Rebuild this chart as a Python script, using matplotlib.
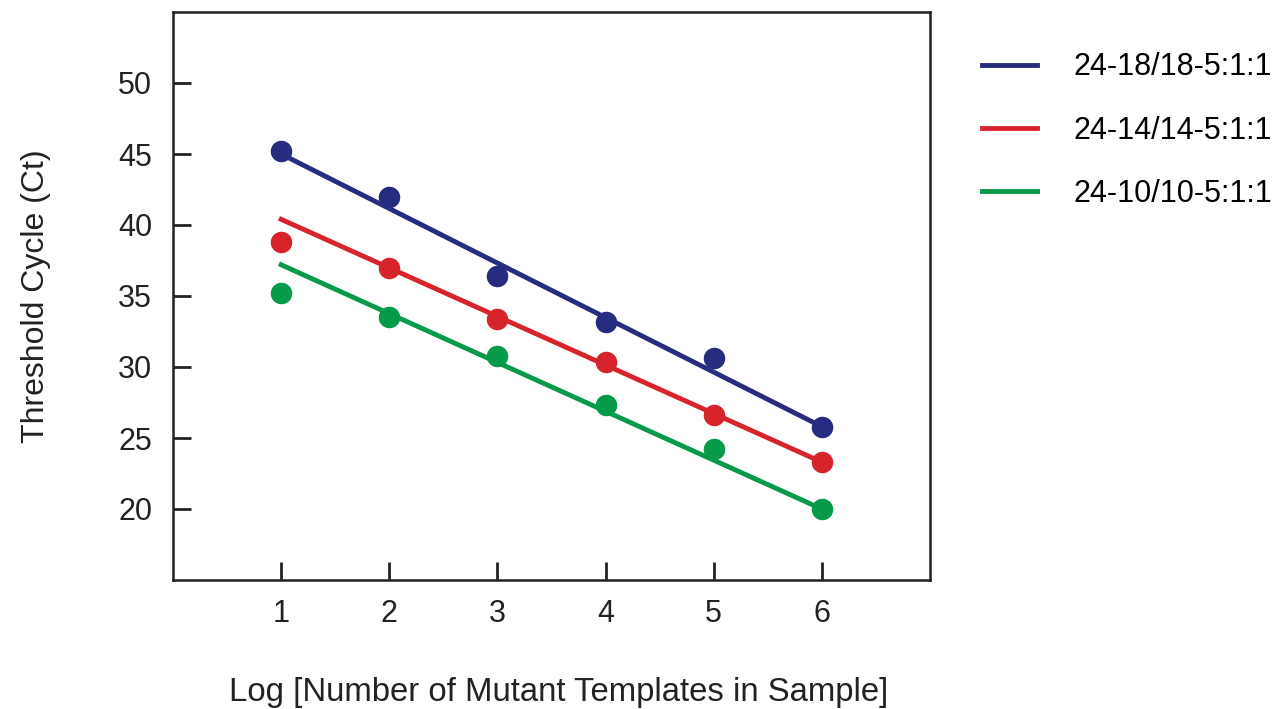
import numpy as np
import matplotlib
matplotlib.use('Agg')
import matplotlib.pyplot as plt

plt.rcParams['font.family'] = ['Liberation Sans', 'DejaVu Sans']

# measured points
log_templates = [1, 2, 3, 4, 5, 6]
ct_18 = [45.2, 42.0, 36.4, 33.2, 30.6, 25.8]
ct_14 = [38.8, 37.0, 33.4, 30.35, 26.6, 23.3]
ct_10 = [35.2, 33.5, 30.75, 27.3, 24.2, 20.0]

# fitted lines, end values read at x=1 and x=6
fit_x = [1, 6]
fit_18 = [45.0, 25.8]
fit_14 = [40.4, 23.3]
fit_10 = [37.2, 20.0]

labels = ['24-18/18-5:1:1', '24-14/14-5:1:1', '24-10/10-5:1:1']
colors = ['#262c7f', '#d7232b', '#069a4a']

fig = plt.figure(figsize=(12.79, 7.09), dpi=100)
ax = fig.add_axes([173/1279, 1-580/709, (930-173)/1279, (580-12)/709])

series = [(ct_18, fit_18), (ct_14, fit_14), (ct_10, fit_10)]
for (pts, fit), lab, c in zip(series, labels, colors):
    ax.plot(fit_x, fit, '-', color=c, lw=3.5, label=lab)
    ax.plot(log_templates, pts, 'o', color=c, ms=15.5, mec='none')

ax.set_xlim(0, 7)
ax.set_ylim(15, 55)
ax.set_xticks(log_templates)
ax.set_yticks([20, 25, 30, 35, 40, 45, 50])
ax.tick_params(direction='in', length=13, width=2, labelsize=22, pad=14, color='#222222',
               labelcolor='#222222')
ax.tick_params(axis='y', pad=15)
for s in ax.spines.values():
    s.set_linewidth(1.8)
    s.set_color('#222222')

ax.set_xlabel('Log [Number of Mutant Templates in Sample]', fontsize=23.7, color='#222222')
ax.xaxis.set_label_coords(0.51, -0.17)
ax.set_ylabel('Threshold Cycle (Ct)', fontsize=23, labelpad=48, color='#222222')

leg = ax.legend(loc='upper left', bbox_to_anchor=(1.0687, 0.929), frameon=False,
                borderpad=0, borderaxespad=0,
                fontsize=22, handlelength=1.8, handletextpad=1.2, labelspacing=1.09)

plt.savefig('out.png', dpi=100)
